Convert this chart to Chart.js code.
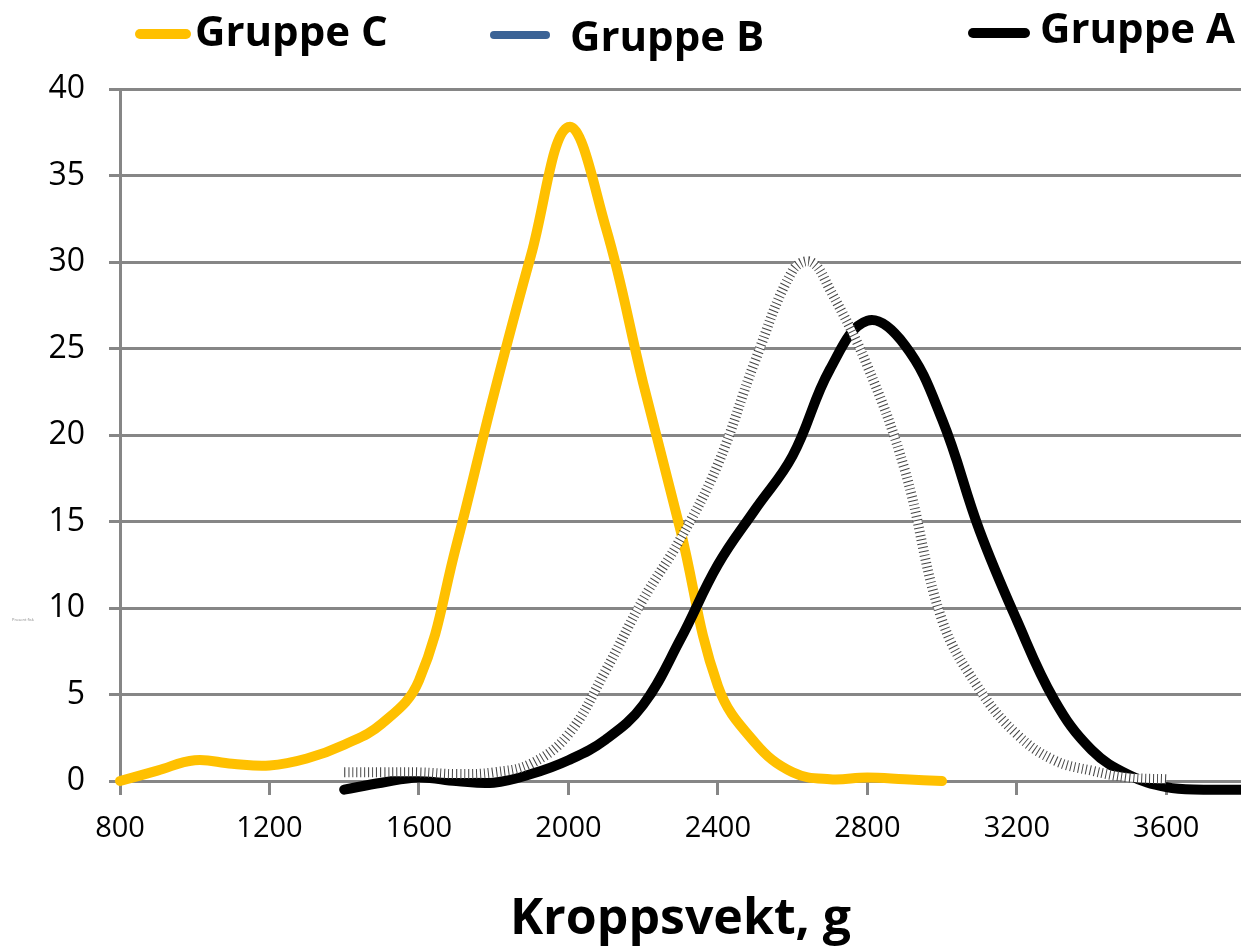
<!DOCTYPE html>
<html>
<head>
  <title>Kroppsvekt per gruppe</title>
  <style>
    body { margin: 0; background: #fff; }
    #wrap { position: relative; width: 1241px; height: 952px; }
    #chart { position: absolute; left: 0; top: 0; }
    .leg { position: absolute; font-family: "Open Sans", "Noto Sans", sans-serif; font-weight: bold; font-size: 42px; color: #000; white-space: nowrap; line-height: 1; }
    .sw { position: absolute; border-radius: 6px; }
    #ytitle { position: absolute; left: 12px; top: 617px; font-family: "Open Sans", sans-serif; font-size: 4px; color: #888; }
  </style>
</head>
<body>
  <div id="wrap">
    <canvas id="chart" width="1241" height="952"></canvas>
    <!-- legend placed by hand, the original has uneven spacing -->
    <div class="sw" style="left:135px; top:29px; width:56px; height:10px; background:#FFC000;"></div>
    <div class="leg" style="left:195px; top:9px;">Gruppe C</div>
    <div class="sw" style="left:490px; top:31px; width:60px; height:8px; background:#3B6396;"></div>
    <div class="leg" style="left:570px; top:14px;">Gruppe B</div>
    <div class="sw" style="left:968px; top:28px; width:62px; height:10px; background:#000;"></div>
    <div class="leg" style="left:1040px; top:6px;">Gruppe A</div>
    <div id="ytitle">Prosent fisk</div>
  </div>

  <script src="https://cdn.jsdelivr.net/npm/chart.js"></script>
  <script>
    // values
    const weightsC = [800, 900, 1000, 1100, 1200, 1300, 1400, 1500, 1600, 1700, 1800, 1900, 2000, 2100, 2200, 2300, 2400, 2500, 2600, 2700, 2800, 2900, 3000];
    const gruppeC  = [0, 0.6, 1.2, 1.0, 0.9, 1.3, 2.1, 3.3, 5.8, 13.6, 22.3, 30.4, 37.8, 32, 23, 14.5, 5.5, 2.2, 0.5, 0.1, 0.2, 0.1, 0];

    const weightsB = [1400, 1500, 1600, 1700, 1800, 1900, 2000, 2100, 2200, 2300, 2400, 2500, 2600, 2650, 2700, 2800, 2900, 3000, 3100, 3200, 3300, 3400, 3500, 3600];
    const gruppeB  = [0.5, 0.5, 0.5, 0.4, 0.5, 1.0, 2.7, 6.4, 10.5, 14, 18.3, 24.3, 29.5, 30, 28.4, 24, 18, 9.3, 5.3, 2.7, 1.2, 0.6, 0.2, 0.1];

    const weightsA = [1400, 1500, 1600, 1700, 1800, 1900, 2000, 2100, 2200, 2300, 2400, 2500, 2600, 2700, 2800, 2900, 3000, 3100, 3200, 3300, 3400, 3500, 3600, 3700, 3800];
    const gruppeA  = [-0.5, -0.1, 0.2, 0, -0.1, 0.4, 1.2, 2.4, 4.4, 8.2, 12.5, 15.7, 18.8, 23.8, 26.6, 25.2, 20.9, 14.5, 9.3, 4.7, 1.8, 0.35, -0.35, -0.5, -0.5];

    const xTicks = [800, 1200, 1600, 2000, 2400, 2800, 3200, 3600];
    const yTicks = [0, 5, 10, 15, 20, 25, 30, 35, 40];

    const toPoints = (xs, ys) => xs.map((x, i) => ({ x: x, y: ys[i] }));
    const gridGray = "#868686";

    const ctx = document.getElementById("chart").getContext("2d");
    new Chart(ctx, {
      type: "line",
      data: {
        datasets: [
          // Gruppe B is drawn as three layers: dotted outline, white core, gray dashes
          { data: toPoints(weightsB, gruppeB), borderColor: "#444", borderWidth: 10, borderDash: [1, 3], tension: 0.4, pointRadius: 0, clip: false },
          { data: toPoints(weightsB, gruppeB), borderColor: "#fff", borderWidth: 8, tension: 0.4, pointRadius: 0, clip: false },
          { data: toPoints(weightsB, gruppeB), borderColor: "#868686", borderWidth: 6, borderDash: [8, 9], tension: 0.4, pointRadius: 0, clip: false },
          { label: "Gruppe A", data: toPoints(weightsA, gruppeA), borderColor: "#000", borderWidth: 10, tension: 0.4, pointRadius: 0, borderCapStyle: "round", clip: false },
          { label: "Gruppe C", data: toPoints(weightsC, gruppeC), borderColor: "#FFC000", borderWidth: 10, tension: 0.4, pointRadius: 0, borderCapStyle: "round", clip: false }
        ]
      },
      options: {
        responsive: false,
        animation: false,
        layout: { padding: { top: 89, right: 0, left: 0, bottom: 0 } },
        plugins: { legend: { display: false }, tooltip: { enabled: false } },
        scales: {
          x: {
            type: "linear",
            min: 800,
            max: 3800,
            afterBuildTicks: (axis) => { axis.ticks = xTicks.map(v => ({ value: v })); },
            afterFit: (axis) => { axis.height = 171; },
            ticks: { color: "#000", font: { family: "'Open Sans', sans-serif", size: 29 }, padding: 16, maxRotation: 0, callback: (v) => String(v) },
            grid: { drawOnChartArea: false, color: gridGray, lineWidth: 3, tickLength: 14 },
            border: { color: gridGray, width: 3 },
            title: { display: true, text: "Kroppsvekt, g", color: "#000", font: { family: "'Open Sans', sans-serif", size: 50, weight: "bold" }, padding: { top: 0, bottom: 2 } }
          },
          y: {
            min: 0,
            max: 40,
            afterBuildTicks: (axis) => { axis.ticks = yTicks.map(v => ({ value: v })); },
            afterFit: (axis) => { axis.width = 120; },
            ticks: { color: "#000", font: { family: "'Open Sans', sans-serif", size: 32 }, padding: 24, callback: (v) => String(v) },
            grid: { color: gridGray, lineWidth: 3, tickLength: 11 },
            border: { color: gridGray, width: 3 }
          }
        }
      }
    });
  </script>
</body>
</html>
